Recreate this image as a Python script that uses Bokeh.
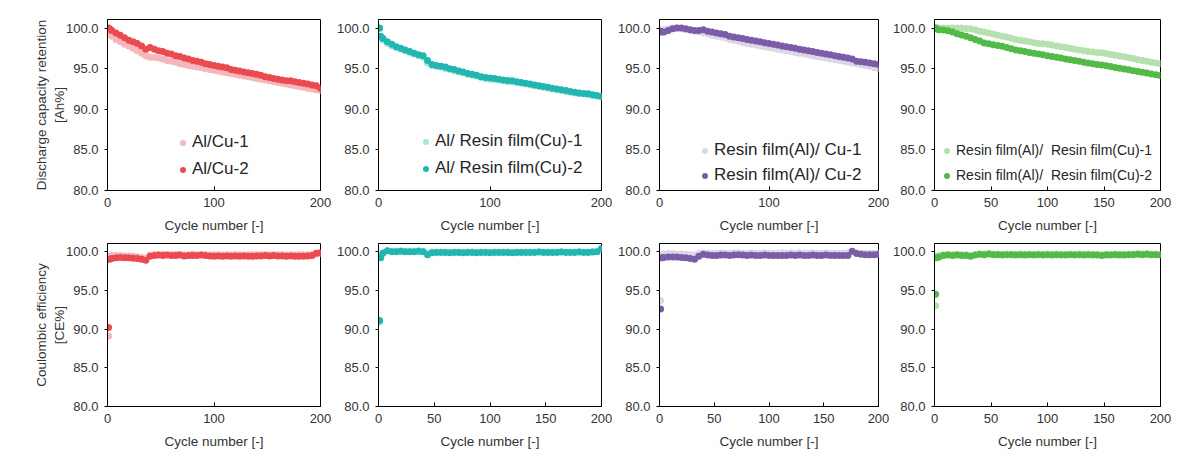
from bokeh.plotting import figure
from bokeh.layouts import column, row
from bokeh.models import Range1d, FixedTicker, PrintfTickFormatter, Legend, LegendItem
from bokeh.embed import file_html
from bokeh.resources import INLINE

FONT = "Liberation Sans"

# cycle numbers at which values were read
cycles = [1, 2] + list(range(4, 201, 4))

# ---------- Discharge capacity retention [Ah%] ----------
alcu_1 = [99.8, 99.4, 99.0, 98.6, 98.3, 98.0, 97.8, 97.5, 97.2, 96.9,
          96.6, 96.4, 96.4, 96.3, 96.2, 96.0, 95.9, 95.8, 95.6, 95.5,
          95.4, 95.3, 95.2, 95.1, 95.0, 94.9, 94.8, 94.7, 94.6, 94.5,
          94.4, 94.3, 94.2, 94.1, 94.0, 93.9, 93.8, 93.7, 93.6, 93.5,
          93.4, 93.3, 93.2, 93.1, 93.0, 92.9, 92.8, 92.7, 92.6, 92.5,
          92.4, 92.3]
alcu_2 = [100.0, 99.9, 99.7, 99.4, 99.1, 98.8, 98.5, 98.3, 98.1, 97.8,
          97.4, 97.6, 97.4, 97.2, 97.1, 96.9, 96.8, 96.6, 96.5, 96.3,
          96.2, 96.0, 95.9, 95.8, 95.6, 95.5, 95.4, 95.3, 95.2, 95.1,
          94.9, 94.8, 94.7, 94.6, 94.5, 94.4, 94.3, 94.2, 94.0, 93.9,
          93.8, 93.7, 93.6, 93.5, 93.5, 93.4, 93.3, 93.2, 93.1, 93.0,
          92.9, 92.6]
alres_1 = [99.9, 98.8, 98.5, 98.1, 97.8, 97.6, 97.4, 97.2, 97.0, 96.8,
           96.6, 96.4, 95.7, 95.4, 95.3, 95.2, 95.0, 94.9, 94.7, 94.6,
           94.5, 94.3, 94.2, 94.1, 93.9, 93.8, 93.7, 93.7, 93.6, 93.5,
           93.4, 93.4, 93.3, 93.2, 93.1, 93.0, 92.9, 92.8, 92.7, 92.6,
           92.5, 92.4, 92.3, 92.2, 92.1, 92.0, 91.9, 91.9, 91.8, 91.7,
           91.6, 91.5]
alres_2 = [100.0, 99.0, 98.7, 98.3, 98.0, 97.7, 97.5, 97.3, 97.1, 96.9,
           96.7, 96.6, 96.0, 95.5, 95.4, 95.3, 95.2, 95.0, 94.9, 94.7,
           94.6, 94.4, 94.3, 94.2, 94.0, 93.9, 93.85, 93.8, 93.7, 93.6,
           93.55, 93.5, 93.4, 93.3, 93.2, 93.1, 93.0, 92.9, 92.8, 92.7,
           92.6, 92.5, 92.4, 92.3, 92.2, 92.1, 92.0, 91.95, 91.9, 91.8,
           91.7, 91.6]
rescu_1 = [99.8, 99.7, 99.8, 99.9, 100.0, 100.0, 99.9, 99.8, 99.7, 99.6,
           99.5, 99.4, 99.3, 99.1, 99.0, 98.9, 98.8, 98.6, 98.5, 98.4,
           98.2, 98.1, 98.0, 97.9, 97.8, 97.7, 97.6, 97.5, 97.4, 97.3,
           97.2, 97.1, 97.0, 96.9, 96.8, 96.7, 96.6, 96.5, 96.4, 96.3,
           96.2, 96.1, 96.0, 95.9, 95.8, 95.7, 95.6, 95.5, 95.4, 95.3,
           95.1, 95.0]
rescu_2 = [99.6, 99.5, 99.5, 99.7, 99.9, 100.0, 100.0, 99.9, 99.8, 99.7,
           99.7, 99.8, 99.6, 99.5, 99.4, 99.3, 99.2, 99.0, 98.9, 98.8,
           98.7, 98.6, 98.5, 98.4, 98.3, 98.2, 98.1, 98.0, 97.9, 97.8,
           97.7, 97.6, 97.5, 97.4, 97.3, 97.2, 97.1, 97.0, 96.9, 96.8,
           96.7, 96.6, 96.5, 96.4, 96.3, 96.2, 95.9, 95.85, 95.8, 95.7,
           95.6, 95.5]
resres_1 = [100.0, 100.0, 100.0, 100.0, 100.0, 100.0, 100.0, 100.0, 99.95, 99.9,
            99.8, 99.6, 99.5, 99.4, 99.25, 99.1, 99.0, 98.9, 98.75, 98.6,
            98.5, 98.4, 98.3, 98.2, 98.1, 98.05, 98.0, 97.9, 97.8, 97.7,
            97.6, 97.5, 97.4, 97.3, 97.2, 97.1, 97.05, 97.0, 96.95, 96.85,
            96.75, 96.65, 96.55, 96.45, 96.35, 96.25, 96.1, 96.0, 95.9, 95.8,
            95.7, 95.6]
resres_2 = [100.0, 99.9, 99.8, 99.75, 99.65, 99.5, 99.3, 99.15, 99.0, 98.8,
            98.6, 98.4, 98.15, 98.05, 97.95, 97.85, 97.75, 97.6, 97.45, 97.3,
            97.2, 97.1, 97.0, 96.9, 96.8, 96.7, 96.6, 96.5, 96.4, 96.3,
            96.2, 96.1, 96.0, 95.9, 95.8, 95.7, 95.6, 95.5, 95.45, 95.35,
            95.25, 95.15, 95.05, 94.95, 94.85, 94.75, 94.65, 94.55, 94.45, 94.35,
            94.25, 94.15]

# ---------- Coulombic efficiency [CE%] ----------
ce_alcu_1 = [89.1, 99.4, 99.5, 99.5, 99.5, 99.45, 99.45, 99.4, 99.35, 99.25,
             99.15, 99.55, 99.6, 99.6, 99.65, 99.6, 99.6, 99.65, 99.6, 99.6,
             99.6, 99.65, 99.6, 99.6, 99.6, 99.55, 99.6, 99.6, 99.55, 99.6,
             99.55, 99.6, 99.6, 99.55, 99.6, 99.6, 99.6, 99.6, 99.6, 99.6,
             99.6, 99.6, 99.6, 99.55, 99.6, 99.55, 99.6, 99.6, 99.6, 99.6,
             99.7, 99.75]
ce_alcu_2 = [90.2, 99.0, 99.1, 99.2, 99.25, 99.2, 99.2, 99.15, 99.1, 99.0,
             98.9, 99.4, 99.5, 99.55, 99.5, 99.55, 99.5, 99.5, 99.55, 99.45,
             99.5, 99.5, 99.5, 99.55, 99.5, 99.45, 99.4, 99.45, 99.4, 99.45,
             99.4, 99.45, 99.4, 99.45, 99.4, 99.4, 99.45, 99.45, 99.5, 99.45,
             99.5, 99.45, 99.45, 99.4, 99.45, 99.4, 99.4, 99.4, 99.45, 99.5,
             99.8, 99.85]
ce_alres_1 = [90.9, 99.5, 99.9, 100.1, 100.05, 100.05, 100.1, 100.05, 100.05, 100.05,
              100.1, 100.05, 99.8, 99.95, 99.95, 99.95, 99.95, 99.9, 99.95, 99.95,
              99.9, 99.95, 99.95, 99.9, 99.95, 99.95, 99.9, 99.95, 99.95, 99.95,
              99.95, 99.9, 99.95, 99.95, 99.95, 99.95, 99.95, 100.0, 99.95, 99.95,
              99.95, 99.95, 100.0, 99.95, 99.95, 99.95, 100.0, 99.95, 99.95, 100.0,
              100.05, 100.3]
ce_alres_2 = [91.1, 99.2, 99.8, 100.1, 100.0, 100.0, 100.05, 100.0, 100.0, 100.0,
              100.05, 100.0, 99.6, 99.85, 99.9, 99.9, 99.9, 99.85, 99.9, 99.9,
              99.85, 99.9, 99.9, 99.85, 99.9, 99.9, 99.85, 99.9, 99.9, 99.9,
              99.9, 99.85, 99.9, 99.9, 99.9, 99.9, 99.9, 99.95, 99.9, 99.9,
              99.9, 99.9, 99.95, 99.9, 99.9, 99.9, 99.95, 99.9, 99.9, 99.95,
              100.0, 100.4]
ce_rescu_1 = [93.7, 99.6, 99.7, 99.75, 99.75, 99.7, 99.7, 99.65, 99.6, 99.55,
              99.75, 99.85, 99.8, 99.8, 99.8, 99.85, 99.8, 99.8, 99.85, 99.85,
              99.8, 99.8, 99.85, 99.8, 99.8, 99.85, 99.8, 99.8, 99.8, 99.85,
              99.8, 99.85, 99.8, 99.85, 99.8, 99.8, 99.85, 99.8, 99.8, 99.85,
              99.8, 99.8, 99.8, 99.8, 99.85, 100.0, 99.85, 99.8, 99.8, 99.8,
              99.8, 99.8]
ce_rescu_2 = [92.6, 99.2, 99.25, 99.3, 99.3, 99.3, 99.25, 99.2, 99.1, 99.0,
              99.4, 99.65, 99.55, 99.5, 99.5, 99.55, 99.55, 99.5, 99.55, 99.6,
              99.55, 99.5, 99.55, 99.5, 99.5, 99.55, 99.5, 99.5, 99.5, 99.5,
              99.5, 99.55, 99.5, 99.55, 99.5, 99.5, 99.55, 99.5, 99.5, 99.55,
              99.5, 99.5, 99.5, 99.5, 99.5, 100.05, 99.75, 99.65, 99.6, 99.6,
              99.6, 99.65]
ce_resres_1 = [93.0, 99.4, 99.5, 99.6, 99.65, 99.6, 99.65, 99.6, 99.6, 99.5,
               99.6, 99.7, 99.7, 99.75, 99.7, 99.7, 99.65, 99.7, 99.7, 99.65,
               99.7, 99.65, 99.7, 99.65, 99.7, 99.65, 99.7, 99.65, 99.7, 99.65,
               99.65, 99.7, 99.65, 99.7, 99.65, 99.7, 99.65, 99.65, 99.6, 99.65,
               99.65, 99.7, 99.65, 99.65, 99.7, 99.7, 99.75, 99.7, 99.75, 99.7,
               99.7, 99.65]
ce_resres_2 = [94.5, 99.2, 99.3, 99.5, 99.55, 99.5, 99.55, 99.5, 99.5, 99.4,
               99.55, 99.65, 99.6, 99.7, 99.6, 99.6, 99.55, 99.6, 99.6, 99.55,
               99.6, 99.55, 99.6, 99.55, 99.6, 99.55, 99.6, 99.55, 99.6, 99.55,
               99.55, 99.6, 99.55, 99.6, 99.55, 99.6, 99.55, 99.55, 99.5, 99.55,
               99.55, 99.6, 99.55, 99.55, 99.6, 99.6, 99.65, 99.6, 99.65, 99.6,
               99.6, 99.55]

labels_alcu = ["Al/Cu-1", "Al/Cu-2"]
labels_alres = ["Al/ Resin film(Cu)-1", "Al/ Resin film(Cu)-2"]
labels_rescu = ["Resin film(Al)/ Cu-1", "Resin film(Al)/ Cu-2"]
labels_resres = ["Resin film(Al)/  Resin film(Cu)-1", "Resin film(Al)/  Resin film(Cu)-2"]

colors_alcu = ["#F5B7BC", "#EB4A50"]
colors_alres = ["#A9E4E0", "#22B6B0"]
colors_rescu = ["#DCD6E9", "#7A5DA6"]
colors_resres = ["#B6E1AE", "#52BA48"]

y_ticks = [80, 85, 90, 95, 100]
x_ticks_coarse = [0, 100, 200]
x_ticks_fine = [0, 50, 100, 150, 200]

TEXT = "#333333"


def make_panel(fw, fh, bl, br, bt, bb, xticks, ylabel, ys, colors, labels=None,
               leg_loc=None, leg_font="17px", leg_spacing=6):
    p = figure(frame_width=fw, frame_height=fh,
               min_border_left=bl, min_border_right=br,
               min_border_top=bt, min_border_bottom=bb,
               x_range=Range1d(0, 200), y_range=Range1d(80, 101.05),
               output_backend="svg", toolbar_location=None,
               background_fill_color="white", border_fill_color="white")
    p.grid.visible = False
    p.outline_line_color = "black"
    p.outline_line_width = 1
    p.outline_line_alpha = 1.0

    xa = p.xaxis[0]
    xa.ticker = FixedTicker(ticks=xticks, minor_ticks=[])
    xa.axis_label = "Cycle number [-]"
    xa.major_tick_in = 4
    xa.major_tick_out = 0
    xa.minor_tick_in = 0
    xa.minor_tick_out = 0
    xa.major_label_standoff = 7
    xa.axis_label_standoff = 8
    ya = p.yaxis[0]
    ya.ticker = FixedTicker(ticks=y_ticks, minor_ticks=[])
    ya.formatter = PrintfTickFormatter(format="%.1f")
    ya.major_tick_in = 0
    ya.major_tick_out = 3
    ya.minor_tick_in = 0
    ya.minor_tick_out = 0
    ya.major_label_standoff = 6
    if ylabel:
        ya.axis_label = ylabel
        ya.axis_label_standoff = -4
    for ax in (xa, ya):
        ax.axis_line_color = "black"
        ax.major_tick_line_color = "black"
        ax.major_label_text_font = FONT
        ax.major_label_text_font_size = "13px"
        ax.major_label_text_color = TEXT
        ax.axis_label_text_font = FONT
        ax.axis_label_text_font_size = "13.5px"
        ax.axis_label_text_font_style = "normal"
        ax.axis_label_text_color = TEXT

    rends = []
    for vals, col in zip(ys, colors):
        r = p.scatter(cycles, vals, size=7, fill_color=col, line_color=None)
        rends.append(r)

    if labels is not None:
        leg = Legend(items=[LegendItem(label=lab, renderers=[r]) for lab, r in zip(labels, rends)],
                     location=leg_loc, orientation="vertical",
                     border_line_color=None, background_fill_alpha=0,
                     padding=0, margin=0, spacing=leg_spacing,
                     glyph_width=15, glyph_height=15, label_height=20,
                     label_standoff=2, label_text_font=FONT,
                     label_text_font_size=leg_font, label_text_color="#262626")
        p.add_layout(leg)
    return p


# layout geometry: (left border, frame width, right border); page has no body margin
cols = [(107, 213, 11), (47, 223, 11), (47, 219, 11), (42, 226, 20)]
top_fh, top_bt, top_bb = 171, 19, 45
bot_fh, bot_bt, bot_bb = 163, 8, 45

top_specs = [
    (x_ticks_coarse, "Discharge capacity retention\n[Ah%]", [alcu_1, alcu_2], colors_alcu, labels_alcu, (68, 11), "17px", 7),
    (x_ticks_coarse, None, [alres_1, alres_2], colors_alres, labels_alres, (40, 12), "17px", 7),
    (x_ticks_coarse, None, [rescu_1, rescu_2], colors_rescu, labels_rescu, (38, 5), "17px", 5),
    (x_ticks_fine, None, [resres_1, resres_2], colors_resres, labels_resres, (5, 5), "14px", 5),
]
bot_specs = [
    (x_ticks_coarse, "Coulombic efficiency\n[CE%]", [ce_alcu_1, ce_alcu_2], colors_alcu),
    (x_ticks_fine, None, [ce_alres_1, ce_alres_2], colors_alres),
    (x_ticks_fine, None, [ce_rescu_1, ce_rescu_2], colors_rescu),
    (x_ticks_fine, None, [ce_resres_1, ce_resres_2], colors_resres),
]

top_figs = []
for (bl, fw, br), (xt, yl, ys, cs, lb, loc, lf, sp) in zip(cols, top_specs):
    top_figs.append(make_panel(fw, top_fh, bl, br, top_bt, top_bb, xt, yl, ys, cs,
                               labels=lb, leg_loc=loc, leg_font=lf, leg_spacing=sp))
bot_figs = []
for (bl, fw, br), (xt, yl, ys, cs) in zip(cols, bot_specs):
    bot_figs.append(make_panel(fw, bot_fh, bl, br, bot_bt, bot_bb, xt, yl, ys, cs))

layout = column(row(*top_figs, spacing=0), row(*bot_figs, spacing=0), spacing=0)

html = file_html(layout, INLINE, title="Cycle performance")
with open("out.html", "w") as f:
    f.write(html)
